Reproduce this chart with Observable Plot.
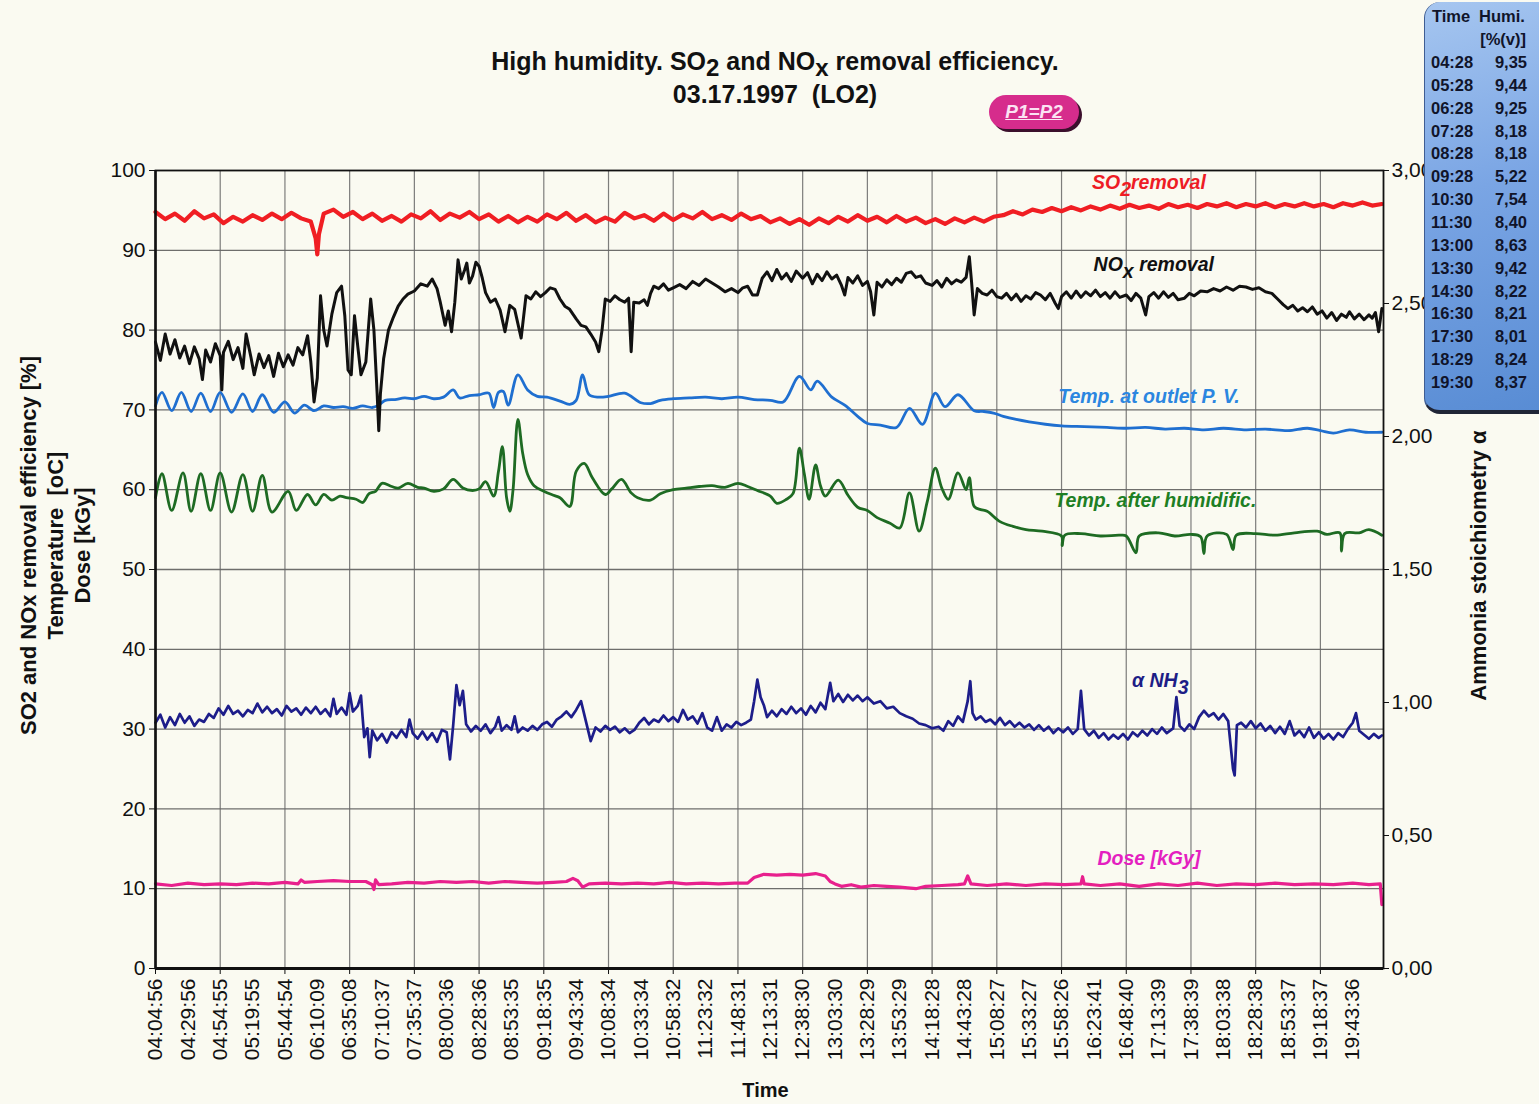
<!DOCTYPE html>
<html>
<head>
<meta charset="utf-8">
<script src="https://cdn.jsdelivr.net/npm/d3@7"></script>
<script src="https://cdn.jsdelivr.net/npm/@observablehq/plot@0.6"></script>
<style>
  html, body { margin: 0; padding: 0; background: #fafaf1; }
  #page { position: relative; width: 1539px; height: 1104px; overflow: hidden; background: #fafaf1; font-family: "Liberation Sans", Arial, sans-serif; }
  #chart { position: absolute; left: 0; top: 0; }
  .title { position: absolute; left: 0; width: 1550px; top: 45px; text-align: center; font-weight: bold; font-size: 25px; line-height: 33px; color: #111; }
  .title .sub { font-size: 24px; position: relative; top: 6px; }
  .badge { position: absolute; left: 989px; top: 95px; width: 90px; height: 34px; border-radius: 17px; background: #d62c8c; box-shadow: 3px 3px 0 #3b0f2c; color: #fbe3f3; font-style: italic; font-weight: bold; font-size: 19px; line-height: 34px; text-align: center; text-decoration: underline; }
  .hum { position: absolute; left: 1424px; top: 2px; width: 130px; height: 412px; border-radius: 16px; background: linear-gradient(165deg, #a6c6f0 0%, #7aa5e4 45%, #588cd4 100%); border-bottom: 4px solid #1f2536; border-left: 1px solid #3f5d93; box-sizing: border-box; color: #10142a; font-weight: bold; font-size: 16.5px; }
  .hum div { position: absolute; white-space: nowrap; }
</style>
</head>
<body>
<div id="page">
  <div id="chart"></div>
  <div class="title">High humidity. SO<span class="sub">2</span> and NO<span class="sub">x</span> removal efficiency.<br>03.17.1997&nbsp;&nbsp;(LO2)</div>
  <div class="badge">P1=P2</div>
  <div class="hum" id="hum"></div>
</div>
<script>
// ---------- Data ----------
const timeLabels = ["04:04:56","04:29:56","04:54:55","05:19:55","05:44:54","06:10:09","06:35:08","07:10:37","07:35:37","08:00:36","08:28:36","08:53:35","09:18:35","09:43:34","10:08:34","10:33:34","10:58:32","11:23:32","11:48:31","12:13:31","12:38:30","13:03:30","13:28:29","13:53:29","14:18:28","14:43:28","15:08:27","15:33:27","15:58:26","16:23:41","16:48:40","17:13:39","17:38:39","18:03:38","18:28:38","18:53:37","19:18:37","19:43:36"];
const leftTicks = [0,10,20,30,40,50,60,70,80,90,100];
const rightTicks = [0,0.5,1,1.5,2,2.5,3];

const humTimes = ["04:28","05:28","06:28","07:28","08:28","09:28","10:30","11:30","13:00","13:30","14:30","16:30","17:30","18:29","19:30"];
const humValues = ["9,35","9,44","9,25","8,18","8,18","5,22","7,54","8,40","8,63","9,42","8,22","8,21","8,01","8,24","8,37"];

// SO2 removal efficiency [%]  (x = position in time-label units)
const so2 = [[0,94.8],[0.3,93.9],[0.6,94.6],[0.9,93.7],[1.2,94.9],[1.5,94.0],[1.8,94.5],[2.1,93.4],[2.4,94.2],[2.7,93.6],[3.0,94.4],[3.3,93.8],[3.6,94.6],[3.9,93.9],[4.2,94.7],[4.5,94.0],[4.8,93.6],[4.95,91.5],[5.0,89.5],[5.05,92.0],[5.2,94.6],[5.5,95.1],[5.8,94.2],[6.1,94.8],[6.4,93.9],[6.7,94.6],[7.0,93.7],[7.3,94.3],[7.6,93.6],[7.9,94.5],[8.2,94.0],[8.5,94.9],[8.8,93.8],[9.1,94.6],[9.4,94.1],[9.7,94.8],[10.0,93.9],[10.3,94.5],[10.6,93.6],[10.9,94.3],[11.2,93.5],[11.5,94.2],[11.8,93.6],[12.1,94.5],[12.4,93.9],[12.7,94.7],[13.0,93.7],[13.3,94.4],[13.6,93.5],[13.9,94.1],[14.2,93.6],[14.5,94.7],[14.8,94.0],[15.1,94.4],[15.4,93.7],[15.7,94.6],[16.0,93.8],[16.3,94.5],[16.6,94.0],[16.9,94.8],[17.2,93.9],[17.5,94.4],[17.8,93.8],[18.1,94.6],[18.4,93.9],[18.7,94.3],[19.0,93.5],[19.3,94.0],[19.6,93.3],[19.9,93.9],[20.2,93.2],[20.5,94.0],[20.8,93.4],[21.1,94.2],[21.4,93.6],[21.7,94.4],[22.0,93.7],[22.3,94.2],[22.6,93.5],[22.9,94.3],[23.2,93.6],[23.5,94.1],[23.8,93.4],[24.1,93.9],[24.4,93.3],[24.7,94.0],[25.0,93.5],[25.3,94.1],[25.6,93.6],[25.9,94.2],[26.2,94.4],[26.5,94.9],[26.8,94.5],[27.1,95.1],[27.4,94.8],[27.7,95.3],[28.0,94.9],[28.3,95.4],[28.6,95.0],[28.9,95.5],[29.2,95.1],[29.5,95.6],[29.8,95.2],[30.1,95.7],[30.4,95.3],[30.7,95.6],[31.0,95.2],[31.3,95.8],[31.6,95.4],[31.9,95.7],[32.2,95.3],[32.5,95.8],[32.8,95.5],[33.1,95.9],[33.4,95.4],[33.7,95.8],[34.0,95.5],[34.3,95.9],[34.6,95.4],[34.9,95.8],[35.2,95.5],[35.5,95.9],[35.8,95.5],[36.1,95.8],[36.4,95.4],[36.7,95.9],[37.0,95.6],[37.3,96.0],[37.6,95.6],[37.9,95.8]];

// NOx removal efficiency [%]
const nox = [[0,78.5],[0.15,76.2],[0.3,79.5],[0.45,77],[0.6,78.8],[0.75,76.5],[0.9,78],[1.05,75.8],[1.2,77.9],[1.35,76.4],[1.45,73.8],[1.55,77.5],[1.7,76],[1.85,78.3],[2.0,76.8],[2.05,72.5],[2.1,77.2],[2.25,78.6],[2.4,76.3],[2.55,77.8],[2.7,75.2],[2.8,79.5],[2.95,76.6],[3.05,74.4],[3.2,77],[3.35,75.3],[3.5,76.8],[3.65,74.2],[3.8,77.1],[3.95,75.4],[4.1,76.9],[4.25,75.6],[4.4,77.8],[4.55,76.9],[4.7,79.3],[4.8,76],[4.9,71],[5.0,74],[5.1,84.3],[5.2,80],[5.3,78],[5.45,82],[5.6,84.7],[5.75,85.5],[5.85,81.8],[5.95,75],[6.05,74.4],[6.15,81.8],[6.25,78],[6.35,74.4],[6.5,76],[6.65,83.9],[6.75,80],[6.85,72],[6.9,67.4],[6.95,72],[7.05,76.4],[7.2,80],[7.35,81.6],[7.5,83],[7.65,83.9],[7.8,84.5],[8.0,84.9],[8.2,85.8],[8.4,85.5],[8.55,86.4],[8.7,85.2],[8.8,83.5],[8.95,80.6],[9.05,82.4],[9.15,79.8],[9.25,83.5],[9.35,88.8],[9.45,86.4],[9.55,87.5],[9.62,88.4],[9.7,85.9],[9.8,86.8],[9.9,88.5],[10.0,88],[10.1,86.5],[10.2,84.7],[10.35,83.5],[10.5,83.9],[10.65,82.5],[10.8,79.8],[10.95,83.1],[11.1,82.6],[11.3,79],[11.45,84.3],[11.6,83.9],[11.75,84.8],[11.9,84.2],[12.05,84.7],[12.2,85.3],[12.35,85.1],[12.5,83.9],[12.65,83],[12.8,82.6],[13.0,81.4],[13.15,80.6],[13.3,80.4],[13.45,79.5],[13.6,78.5],[13.7,77.3],[13.8,80],[13.9,83.9],[14.05,83.6],[14.2,84.3],[14.35,83.8],[14.5,83.5],[14.62,84],[14.7,77.3],[14.78,83.5],[14.95,83.4],[15.1,83.8],[15.2,83.1],[15.3,84.6],[15.4,85.5],[15.55,85.2],[15.7,85.8],[15.85,85],[16.0,85.3],[16.2,85.7],[16.4,85.2],[16.6,86.1],[16.8,85.6],[17.0,86.4],[17.2,85.9],[17.4,85.4],[17.6,84.8],[17.8,85.2],[18.0,84.7],[18.15,85.3],[18.3,85.5],[18.45,84.4],[18.6,84.4],[18.75,86.5],[18.9,87.3],[19.05,86.2],[19.2,87.6],[19.35,86.4],[19.5,87.1],[19.65,86.1],[19.8,87.4],[20.0,86.5],[20.15,87.2],[20.3,85.8],[20.45,87],[20.6,86.2],[20.75,87.3],[20.9,86.4],[21.05,86.9],[21.2,85.6],[21.3,84.4],[21.4,86.6],[21.55,85.9],[21.7,86.8],[21.85,85.6],[22.0,86.1],[22.1,84.8],[22.2,81.9],[22.3,86],[22.45,85.4],[22.6,86.3],[22.75,85.7],[22.9,86.5],[23.05,86],[23.2,87.1],[23.35,87.3],[23.5,86.6],[23.65,86.8],[23.8,85.9],[24.0,85.6],[24.15,86.2],[24.3,85.4],[24.45,86.5],[24.6,85.8],[24.75,86.3],[24.9,86],[25.05,86.6],[25.15,89.2],[25.22,86],[25.3,81.9],[25.4,85.2],[25.55,84.6],[25.7,84.4],[25.85,85],[26.0,84.2],[26.15,84],[26.3,84.6],[26.45,83.8],[26.6,84.5],[26.75,83.6],[26.9,84.3],[27.05,83.9],[27.2,84.7],[27.35,84.4],[27.5,83.8],[27.65,84.6],[27.8,83.4],[27.9,82.7],[28.0,84.2],[28.15,84.8],[28.3,84],[28.45,84.9],[28.6,84.1],[28.75,84.8],[28.9,84.3],[29.05,85],[29.2,84.2],[29.35,84.7],[29.5,84],[29.65,84.8],[29.8,84.1],[30.0,84.4],[30.15,83.7],[30.3,84.6],[30.45,84],[30.6,81.9],[30.7,84.2],[30.85,84.7],[31.0,84],[31.15,84.8],[31.3,84.1],[31.45,84.6],[31.6,83.8],[31.8,84],[31.95,84.6],[32.1,84.3],[32.3,84.9],[32.5,84.8],[32.7,85.2],[32.9,84.9],[33.1,85.4],[33.3,85],[33.5,85.5],[33.7,85.4],[33.9,85.1],[34.1,85.3],[34.3,84.8],[34.5,84.6],[34.7,83.8],[34.85,83.2],[35.0,82.7],[35.15,83.1],[35.3,82.4],[35.45,82.8],[35.6,82.3],[35.75,82.9],[35.9,82],[36.05,82.4],[36.2,81.5],[36.35,82.2],[36.5,81.2],[36.65,82],[36.8,81.6],[36.9,82.3],[37.05,81.4],[37.2,82],[37.35,81.3],[37.5,81.9],[37.6,81.5],[37.7,82.2],[37.8,79.8],[37.9,82.7]];

// Temperature at outlet P.V. [oC]
const tempOutlet = [[0,70.5],[0.2,72.2],[0.5,69.9],[0.8,72.2],[1.1,69.8],[1.4,72.1],[1.7,69.8],[2.0,72.2],[2.35,69.7],[2.7,72],[3.0,69.8],[3.3,71.9],[3.65,69.7],[4.0,71],[4.3,69.6],[4.6,70.6],[4.9,69.9],[5.2,70.5],[5.5,70.3],[5.8,70.4],[6.1,70.2],[6.4,70.5],[6.7,70.3],[6.9,70.6],[7.1,71.2],[7.4,71.3],[7.7,71.5],[8.0,71.4],[8.3,71.7],[8.6,71.4],[8.9,71.6],[9.2,72.5],[9.4,71.5],[9.7,71.8],[10.0,71.9],[10.3,72.1],[10.45,70.3],[10.6,72.2],[10.75,72.3],[10.9,70.6],[11.2,74.4],[11.5,72.5],[11.8,71.7],[12.1,71.6],[12.5,71.1],[12.8,70.7],[13.0,71.2],[13.2,74.4],[13.4,71.9],[13.7,71.6],[14.0,71.7],[14.5,72.1],[15.0,70.9],[15.3,70.8],[15.6,71.2],[16.0,71.4],[16.5,71.5],[17.0,71.6],[17.5,71.4],[18.0,71.6],[18.5,71.3],[19.0,71.2],[19.4,71],[19.9,74.2],[20.25,72.5],[20.45,73.6],[20.9,71.6],[21.3,70.6],[21.7,69.2],[22.0,68.3],[22.4,68.1],[22.9,67.8],[23.3,70.2],[23.7,68.2],[24.1,72.1],[24.4,70.4],[24.8,71.9],[25.3,69.9],[25.6,69.8],[25.9,69.6],[26.2,69.2],[26.6,68.8],[27.0,68.5],[27.5,68.2],[28.0,68.0],[28.7,67.9],[29.4,67.8],[30.0,67.7],[30.6,67.8],[31.2,67.6],[31.8,67.7],[32.4,67.5],[33.0,67.7],[33.7,67.5],[34.3,67.6],[35.0,67.4],[35.6,67.7],[36.0,67.4],[36.4,67.1],[36.9,67.5],[37.4,67.2],[37.9,67.2]];

// Temperature after humidification [oC]
const tempHumid = [[0,59],[0.2,62],[0.5,57.4],[0.85,62.1],[1.1,57.3],[1.4,62],[1.7,57.4],[2.0,62.1],[2.35,57.2],[2.7,61.9],[3.0,57.3],[3.3,61.8],[3.6,57.2],[4.1,59.8],[4.35,57.4],[4.7,59.4],[4.95,58.1],[5.2,59.4],[5.45,58.7],[5.7,59.2],[5.9,59],[6.2,58.8],[6.4,58.4],[6.6,59.5],[6.8,59.8],[7.0,60.8],[7.3,60.4],[7.5,60.2],[7.8,60.8],[8.1,60.3],[8.3,60.2],[8.6,59.8],[8.9,60.1],[9.2,61.3],[9.5,60.2],[9.8,59.9],[10.0,60.1],[10.2,61],[10.45,59.2],[10.6,62.3],[10.72,65.4],[10.85,59],[10.95,57.3],[11.05,60],[11.2,68.8],[11.35,64.5],[11.5,61.9],[11.7,60.5],[12.0,59.8],[12.3,59.3],[12.5,59],[12.8,57.9],[13.0,62.3],[13.25,63.3],[13.5,61.5],[13.9,59.4],[14.1,60.1],[14.4,61.3],[14.7,59.6],[14.9,59],[15.3,58.7],[15.6,59.5],[16.0,60],[16.4,60.2],[16.8,60.4],[17.2,60.5],[17.6,60.3],[18.0,60.8],[18.3,60.4],[18.6,59.9],[19.0,59.2],[19.2,58.3],[19.5,58.8],[19.7,59.5],[19.9,65.2],[20.05,62],[20.2,58.8],[20.4,63.1],[20.55,60.5],[20.7,59.2],[21.1,61.2],[21.4,59.3],[21.7,57.8],[22.0,57.4],[22.3,56.5],[22.7,55.8],[23.0,55.2],[23.3,59.6],[23.6,54.8],[23.85,58.5],[24.1,62.7],[24.3,60.2],[24.5,58.8],[24.8,62.1],[25.05,60],[25.15,61.5],[25.3,57.9],[25.5,57.5],[25.7,57.3],[26.1,56],[26.5,55.4],[26.9,55],[27.4,54.8],[28.0,54.2],[28.02,53],[28.1,54.3],[28.6,54.5],[29.2,54.2],[29.8,54.3],[30.0,54.2],[30.3,52.1],[30.4,54.2],[31.0,54.6],[31.5,54.2],[32.0,54.4],[32.3,54.1],[32.4,52],[32.5,54.2],[33.1,54.4],[33.3,52.5],[33.4,54.3],[34.0,54.5],[34.6,54.3],[35.2,54.6],[35.9,54.8],[36.2,54.4],[36.6,54.6],[36.65,52.3],[36.75,54.5],[37.2,54.6],[37.5,55],[37.9,54.3]];

// Ammonia stoichiometry alpha (right axis)
const alphaNH3 = [[0,0.924],[0.15,0.954],[0.3,0.906],[0.45,0.945],[0.6,0.915],[0.75,0.957],[0.9,0.924],[1.05,0.948],[1.2,0.912],[1.35,0.936],[1.5,0.927],[1.65,0.957],[1.8,0.942],[1.95,0.978],[2.1,0.954],[2.25,0.987],[2.4,0.957],[2.55,0.969],[2.7,0.948],[2.85,0.972],[3.0,0.960],[3.15,0.996],[3.3,0.963],[3.45,0.984],[3.6,0.960],[3.75,0.975],[3.9,0.951],[4.05,0.987],[4.2,0.966],[4.35,0.978],[4.5,0.954],[4.65,0.981],[4.8,0.960],[4.95,0.984],[5.1,0.957],[5.25,0.975],[5.4,0.948],[5.5,1.014],[5.6,0.957],[5.75,0.981],[5.9,0.954],[6.0,1.035],[6.1,0.966],[6.25,0.987],[6.35,1.026],[6.4,0.945],[6.45,0.870],[6.55,0.903],[6.62,0.795],[6.7,0.894],[6.85,0.858],[7.0,0.882],[7.15,0.849],[7.3,0.888],[7.45,0.867],[7.6,0.897],[7.75,0.870],[7.85,0.936],[7.95,0.885],[8.1,0.864],[8.25,0.891],[8.4,0.861],[8.55,0.885],[8.7,0.852],[8.85,0.897],[9.0,0.888],[9.1,0.786],[9.2,0.915],[9.3,1.065],[9.4,0.990],[9.5,1.044],[9.6,0.918],[9.75,0.891],[9.9,0.912],[10.05,0.894],[10.2,0.918],[10.35,0.885],[10.5,0.909],[10.6,0.945],[10.7,0.894],[10.85,0.915],[11.0,0.897],[11.1,0.948],[11.2,0.888],[11.35,0.906],[11.5,0.894],[11.65,0.912],[11.8,0.897],[11.95,0.918],[12.1,0.927],[12.25,0.909],[12.4,0.936],[12.55,0.948],[12.7,0.966],[12.85,0.945],[13.0,0.972],[13.15,1.005],[13.3,0.930],[13.45,0.855],[13.6,0.906],[13.75,0.891],[13.9,0.912],[14.05,0.897],[14.2,0.909],[14.35,0.888],[14.5,0.903],[14.65,0.885],[14.8,0.897],[14.95,0.924],[15.1,0.942],[15.25,0.918],[15.4,0.936],[15.55,0.927],[15.7,0.951],[15.85,0.930],[16.0,0.945],[16.15,0.927],[16.3,0.972],[16.45,0.936],[16.6,0.948],[16.75,0.921],[16.9,0.960],[17.05,0.906],[17.2,0.894],[17.35,0.945],[17.5,0.894],[17.65,0.918],[17.8,0.906],[17.95,0.927],[18.1,0.915],[18.25,0.924],[18.4,0.936],[18.5,1.005],[18.6,1.086],[18.7,1.020],[18.8,0.990],[18.9,0.945],[19.05,0.969],[19.2,0.948],[19.35,0.975],[19.5,0.957],[19.65,0.984],[19.8,0.960],[19.95,0.978],[20.1,0.954],[20.25,0.987],[20.4,0.963],[20.55,0.999],[20.7,0.975],[20.85,1.074],[20.95,1.005],[21.1,1.032],[21.25,1.002],[21.4,1.029],[21.55,1.008],[21.7,1.026],[21.85,1.005],[22.0,1.020],[22.2,0.996],[22.4,1.005],[22.6,0.978],[22.8,0.984],[23.0,0.960],[23.2,0.948],[23.4,0.939],[23.6,0.921],[23.8,0.915],[24.0,0.903],[24.2,0.909],[24.35,0.894],[24.5,0.930],[24.65,0.912],[24.8,0.948],[24.95,0.927],[25.1,1.005],[25.18,1.080],[25.25,0.960],[25.35,0.936],[25.5,0.948],[25.65,0.927],[25.8,0.936],[25.95,0.918],[26.1,0.942],[26.25,0.915],[26.4,0.930],[26.55,0.909],[26.7,0.924],[26.85,0.906],[27.0,0.918],[27.15,0.897],[27.3,0.915],[27.45,0.894],[27.6,0.909],[27.75,0.885],[27.9,0.903],[28.05,0.888],[28.2,0.906],[28.35,0.882],[28.5,0.900],[28.6,1.044],[28.7,0.900],[28.85,0.876],[29.0,0.894],[29.15,0.867],[29.3,0.885],[29.45,0.861],[29.6,0.879],[29.75,0.864],[29.9,0.882],[30.05,0.861],[30.2,0.888],[30.35,0.873],[30.5,0.894],[30.65,0.876],[30.8,0.900],[30.95,0.882],[31.1,0.906],[31.25,0.885],[31.45,0.903],[31.55,1.020],[31.65,0.912],[31.8,0.894],[31.95,0.918],[32.1,0.900],[32.25,0.945],[32.4,0.969],[32.55,0.948],[32.7,0.960],[32.85,0.936],[33.0,0.957],[33.15,0.930],[33.3,0.750],[33.35,0.726],[33.42,0.915],[33.55,0.924],[33.7,0.906],[33.85,0.930],[34.0,0.903],[34.15,0.921],[34.3,0.894],[34.45,0.912],[34.6,0.885],[34.75,0.909],[34.9,0.882],[35.05,0.930],[35.2,0.876],[35.35,0.894],[35.5,0.870],[35.65,0.906],[35.8,0.867],[35.95,0.888],[36.1,0.864],[36.25,0.882],[36.4,0.861],[36.55,0.885],[36.7,0.870],[36.85,0.900],[37.0,0.924],[37.1,0.960],[37.2,0.894],[37.35,0.879],[37.5,0.864],[37.65,0.882],[37.8,0.867],[37.9,0.876]];

// Dose [kGy]
const dose = [[0,10.6],[0.5,10.4],[1,10.7],[1.5,10.5],[2,10.6],[2.5,10.5],[3,10.7],[3.5,10.6],[4,10.8],[4.4,10.6],[4.5,11.1],[4.6,10.8],[5,10.9],[5.5,11],[6,10.9],[6.5,10.9],[6.7,10.5],[6.75,9.9],[6.8,11.1],[6.9,10.5],[7.3,10.6],[7.8,10.8],[8.3,10.7],[8.8,10.9],[9.3,10.8],[9.8,10.9],[10.3,10.7],[10.8,10.9],[11.3,10.8],[11.8,10.7],[12.3,10.8],[12.7,10.9],[12.9,11.3],[13.05,11.0],[13.2,10.2],[13.4,10.6],[13.9,10.7],[14.4,10.6],[14.9,10.7],[15.4,10.6],[15.9,10.8],[16.4,10.6],[16.9,10.7],[17.4,10.6],[17.9,10.7],[18.3,10.7],[18.5,11.4],[18.8,11.8],[19.2,11.7],[19.6,11.8],[20,11.7],[20.4,11.9],[20.7,11.6],[20.85,10.9],[21.0,10.6],[21.2,10.3],[21.5,10.5],[21.8,10.2],[22.2,10.4],[22.6,10.3],[23,10.2],[23.5,10.0],[23.8,10.3],[24.3,10.4],[24.8,10.5],[25.0,10.6],[25.1,11.6],[25.2,10.6],[25.7,10.4],[26.3,10.6],[26.9,10.4],[27.5,10.6],[28.1,10.5],[28.6,10.6],[28.65,11.5],[28.7,10.6],[29.2,10.4],[29.8,10.6],[30.4,10.3],[31,10.6],[31.6,10.4],[32.2,10.7],[32.8,10.4],[33.4,10.6],[34,10.5],[34.6,10.7],[35.2,10.5],[35.8,10.6],[36.4,10.5],[37,10.7],[37.5,10.5],[37.85,10.6],[37.9,8.0]];

// ---------- Helpers ----------
const toLeft = r => r * 100 / 3;          // right-axis value -> left-axis scale
const gridIdx = d3.range(0, timeLabels.length, 2);
const X = d => d[0], Y = d => d[1];

const seriesLabels = [
  {text: "SO2removal", x: 30.7, y: 98.5, color: "#ee1c25"},
  {text: "NOx removal", x: 30.85, y: 88.2, color: "#111111"},
  {text: "Temp. at outlet P. V.", x: 30.7, y: 71.7, color: "#2b86e0"},
  {text: "Temp. after humidific.", x: 30.9, y: 58.6, color: "#1e7f24"},
  {text: "α NH3", x: 31.05, y: 36.1, color: "#1d1d86"},
  {text: "Dose [kGy]", x: 30.7, y: 13.8, color: "#e41fc0"}
];

const font = "Liberation Sans, Arial, sans-serif";

const chart = Plot.plot({
  width: 1539,
  height: 1104,
  marginLeft: 155,
  marginRight: 156,
  marginTop: 170,
  marginBottom: 136,
  x: {domain: [0, 37.95], axis: null},
  y: {domain: [0, 100], axis: null},
  style: {background: "transparent", fontFamily: font, color: "#111"},
  marks: [
    Plot.ruleY(leftTicks.filter(v => v > 0 && v < 100), {stroke: "#555", strokeWidth: 1.3, strokeOpacity: 0.85}),
    Plot.ruleX(gridIdx.filter(v => v > 0), {stroke: "#666", strokeWidth: 1.2, strokeOpacity: 0.85}),
    Plot.line(dose, {x: X, y: Y, stroke: "#e8208d", strokeWidth: 3.2, strokeLinejoin: "round"}),
    Plot.line(alphaNH3, {x: X, y: d => toLeft(d[1]), stroke: "#1d1d8a", strokeWidth: 2.7, strokeLinejoin: "round"}),
    Plot.line(tempHumid, {x: X, y: Y, stroke: "#1e6b23", strokeWidth: 2.8, strokeLinejoin: "round", curve: "catmull-rom"}),
    Plot.line(tempOutlet, {x: X, y: Y, stroke: "#1f6fd0", strokeWidth: 2.8, strokeLinejoin: "round", curve: "catmull-rom"}),
    Plot.line(nox, {x: X, y: Y, stroke: "#111", strokeWidth: 3, strokeLinejoin: "round"}),
    Plot.line(so2, {x: X, y: Y, stroke: "#f01e23", strokeWidth: 4.2, strokeLinejoin: "round"}),
    Plot.frame({stroke: "#111", strokeWidth: 1.8}),
    Plot.ruleY([0], {stroke: "#111", strokeWidth: 3}),
    Plot.ruleX([0], {stroke: "#111", strokeWidth: 2.5}),
    Plot.axisY({ticks: leftTicks, tickSize: 6, tickPadding: 4, fontSize: 21, label: null, tickFormat: d => String(d)}),
    Plot.axisY({anchor: "right", ticks: rightTicks.map(toLeft), tickSize: 5, tickPadding: 3, fontSize: 21, label: null,
                tickFormat: v => (v * 3 / 100).toFixed(2).replace(".", ",")}),
    Plot.axisX({ticks: timeLabels.map((_, i) => i), tickFormat: i => timeLabels[i], tickRotate: -90, tickSize: 0, tickPadding: 10, fontSize: 21, label: null}),
    Plot.axisX({ticks: gridIdx, tickFormat: () => "", tickSize: 6, label: null}),
    Plot.text(seriesLabels, {x: "x", y: "y", text: "text", fill: "color", fontSize: 19.5, fontStyle: "italic", fontWeight: "bold"}),
    Plot.text(["SO2 and NOx removal efficiency [%]\nTemperature  [oC]\nDose [kGy]"], {frameAnchor: "left", rotate: -90, dx: -101, dy: -24, textAnchor: "middle", lineAnchor: "middle", lineHeight: 1.23, fontSize: 22, fontWeight: "bold"}),
    Plot.text(["Ammonia stoichiometry α"], {frameAnchor: "right", rotate: -90, dx: 95, dy: -4, textAnchor: "middle", lineAnchor: "middle", fontSize: 22, fontWeight: "bold"}),
    Plot.text(["Time"], {frameAnchor: "bottom", dx: -4, dy: 122, textAnchor: "middle", lineAnchor: "middle", fontSize: 20, fontWeight: "bold"})
  ]
});
document.getElementById("chart").appendChild(chart);

// subscripts in series labels
const subs = {"SO2removal": ["SO", "2", "removal"], "NOx removal": ["NO", "x", " removal"], "α NH3": ["α NH", "3", ""]};
d3.select(chart).selectAll("text").each(function() {
  const parts = subs[this.textContent];
  if (!parts) return;
  const t = d3.select(this);
  t.text(null);
  t.append("tspan").text(parts[0]);
  t.append("tspan").attr("dy", "0.35em").text(parts[1]);
  if (parts[2]) t.append("tspan").attr("dy", "-0.35em").text(parts[2]);
});

// humidity table
const hum = document.getElementById("hum");
const add = (txt, left, top, right) => {
  const el = document.createElement("div");
  el.textContent = txt;
  el.style.top = top + "px";
  if (right != null) el.style.right = right + "px"; else el.style.left = left + "px";
  hum.appendChild(el);
};
add("Time", 7, 5);
add("Humi.", 54, 5);
add("[%(v)]", null, 28, 28);
humTimes.forEach((t, i) => {
  add(t, 6, 51 + i * 22.86);
  add(humValues[i], null, 51 + i * 22.86, 27);
});
</script>
</body>
</html>
